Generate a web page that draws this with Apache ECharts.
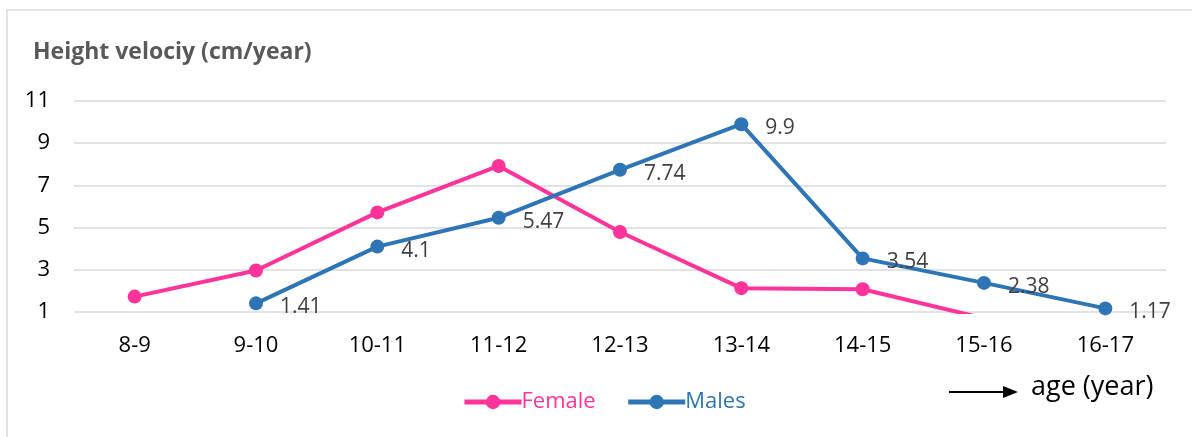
<!DOCTYPE html>
<html>
<head>
<meta charset="utf-8">
<script src="https://cdn.jsdelivr.net/npm/echarts@6/dist/echarts.min.js"></script>
<style>
  html, body { margin: 0; padding: 0; background: #fff; }
  #main { width: 1192px; height: 437px; }
</style>
</head>
<body>
<div id="main"></div>
<script>
// age groups along the x axis
const categories = ['8-9', '9-10', '10-11', '11-12', '12-13', '13-14', '14-15', '15-16', '16-17'];
// height velocity (cm/year)
const femaleValues = [1.73, 2.97, 5.72, 7.92, 4.79, 2.13, 2.08, 0.7, null];
const maleValues = [null, 1.41, 4.1, 5.47, 7.74, 9.9, 3.54, 2.38, 1.17];
const yTicks = { min: 1, max: 11, interval: 2 };

const pink = '#FF3399';
const blue = '#2E75B6';
const font = 'Open Sans';

const myChart = echarts.init(document.getElementById('main'));

const option = {
    animation: false,
    backgroundColor: '#fff',
    grid: { left: 74, right: 26, top: 101, bottom: 125, containLabel: false },
    legend: {
        left: 457,
        top: 386,
        itemWidth: 57,
        itemHeight: 18,
        itemGap: 30,
        lineStyle: { width: 5 },
        data: [
            { name: 'Female', textStyle: { color: pink } },
            { name: 'Males', textStyle: { color: blue } }
        ],
        textStyle: { fontFamily: font, fontSize: 22, padding: [0, 0, 0, -5] }
    },
    xAxis: {
        type: 'category',
        data: categories,
        boundaryGap: true,
        axisLine: { show: false },
        axisTick: { show: false },
        axisLabel: { color: '#000', fontFamily: font, fontSize: 22, margin: 23 }
    },
    yAxis: {
        type: 'value',
        min: yTicks.min,
        max: yTicks.max,
        interval: yTicks.interval,
        axisLine: { show: false },
        axisTick: { show: false },
        splitLine: { lineStyle: { color: '#D9D9D9', width: 1.5 } },
        axisLabel: { color: '#000', fontFamily: font, fontSize: 22, margin: 24 }
    },
    series: [
        {
            name: 'Female',
            type: 'line',
            data: femaleValues,
            clip: true,
            symbol: 'circle',
            symbolSize: 14,
            connectNulls: false,
            itemStyle: { color: pink },
            lineStyle: { color: pink, width: 4 },
            z: 2
        },
        {
            name: 'Males',
            type: 'line',
            data: maleValues,
            clip: true,
            symbol: 'circle',
            symbolSize: 14,
            itemStyle: { color: blue },
            lineStyle: { color: blue, width: 4 },
            label: {
                show: true,
                position: 'right',
                distance: 17,
                offset: [0, 4],
                color: '#404040',
                fontFamily: font,
                fontSize: 21
            },
            z: 3
        }
    ],
    graphic: [
        {
            type: 'rect',
            shape: { x: 7, y: 10, width: 1200, height: 440 },
            style: { fill: 'none', stroke: '#D9D9D9', lineWidth: 1.5 },
            silent: true
        },
        {
            type: 'text',
            left: 33,
            top: 41,
            style: { text: 'Height velociy (cm/year)', fill: '#595959', font: 'bold 23px "Open Sans"' }
        },
        {
            type: 'line',
            shape: { x1: 949, y1: 392, x2: 1005, y2: 392 },
            style: { stroke: '#000', lineWidth: 2 }
        },
        {
            type: 'polygon',
            shape: { points: [[1003, 386], [1018, 392], [1003, 398]] },
            style: { fill: '#000' }
        },
        {
            type: 'text',
            left: 1031,
            top: 374,
            style: { text: 'age (year)', fill: '#000', font: '27px "Open Sans"' }
        }
    ]
};

myChart.setOption(option);
</script>
</body>
</html>
